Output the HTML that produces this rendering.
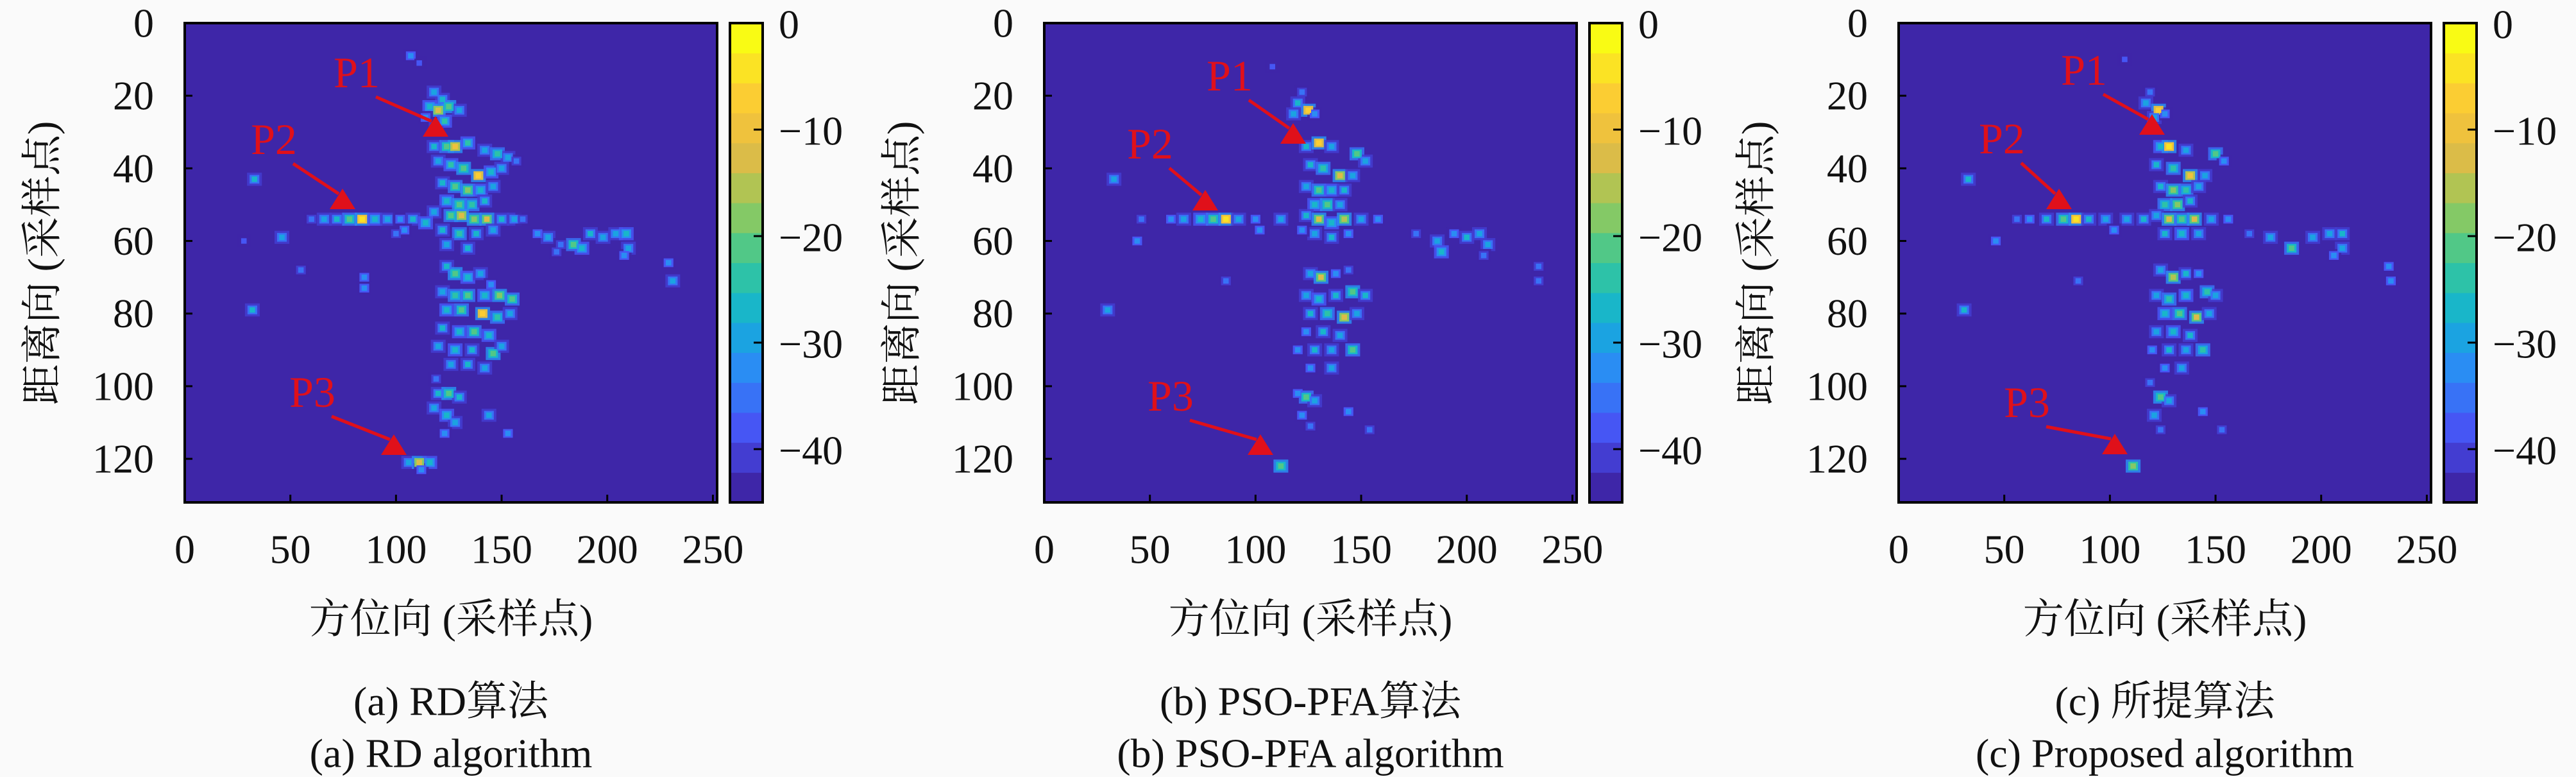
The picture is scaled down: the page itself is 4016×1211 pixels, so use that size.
<!DOCTYPE html>
<html><head><meta charset="utf-8"><style>
html,body{margin:0;padding:0;background:#fafafa;}
svg{display:block;}
text{font-family:"Liberation Serif","Noto Serif CJK SC",serif;fill:#111;}
.cjk{font-family:"Liberation Serif","Noto Serif CJK SC","Noto Sans CJK SC",serif;}
</style></head><body>
<svg id="fig" width="4016" height="1211" viewBox="0 0 4016 1211" xmlns="http://www.w3.org/2000/svg"></svg>
<script>
// ---- data ----
const xTicks = [0,50,100,150,200,250];
const yTicks = [0,20,40,60,80,100,120];
const cTicks = [0,-10,-20,-30,-40];
const xMax = 252, yMax = 132, cMin = -45, cMax = 0;
const captionsCN = ["(a) RD算法","(b) PSO-PFA算法","(c) 所提算法"];
const captionsEN = ["(a) RD algorithm","(b) PSO-PFA algorithm","(c) Proposed algorithm"];
const pointsA = [[107,9,-33],[111,11,-38],[118,19,-30],[122,21,-28],[116,23,-26],[120,24,-12],[125,23,-20],[130,24,-30],[114,26,-32],[123,27,-25],[119,29,-30],
[118,34,-28],[124,34,-22],[128,34,-9],[134,33,-25],[142,35,-30],[148,36,-24],[153,37,-30],[157,38,-34],
[120,38,-30],[126,39,-25],[132,40,-20],[139,42,-8],[145,41,-26],[150,40,-30],
[122,44,-28],[128,45,-22],[134,46,-18],[140,46,-26],[146,45,-30],
[124,49,-26],[130,50,-20],[136,50,-24],[142,49,-28],
[118,52,-30],[126,53,-22],[131,53,-12],[137,54,-18],[143,54,-14],[150,54,-28],
[60,54,-34],[66,54,-30],[72,54,-28],[78,54,-22],[84,54,-5],[90,54,-26],[96,54,-30],[102,54,-32],[108,54,-28],[114,55,-26],[156,54,-30],[160,54,-34],
[122,57,-28],[130,58,-24],[138,58,-28],[146,57,-30],[104,57,-32],[100,58,-35],[124,61,-30],[134,62,-28],
[167,58,-32],[172,59,-30],[178,61,-34],[184,61,-22],[188,62,-26],[192,58,-28],[198,59,-30],[204,58,-30],[209,58,-26],[210,62,-30],[176,63,-34],[208,64,-33],[229,66,-32],[231,71,-30],
[124,67,-28],[128,69,-20],[134,70,-26],[140,69,-30],[145,72,-32],
[122,74,-30],[128,75,-24],[134,75,-22],[142,75,-26],[149,75,-18],[155,76,-22],
[124,79,-26],[131,79,-22],[141,80,-8],[148,81,-24],[154,80,-30],
[122,84,-28],[130,85,-26],[137,85,-22],[144,86,-26],[120,89,-30],[128,90,-26],[136,90,-28],[146,91,-20],[150,89,-30],
[126,94,-30],[134,94,-28],[142,95,-30],
[119,98,-34],[120,102,-28],[125,102,-20],[130,103,-28],[118,106,-30],[124,108,-26],[128,110,-30],[123,113,-32],
[106,121,-30],[111,121,-12],[116,121,-26],[112,123,-32],
[33,43,-28],[46,59,-30],[32,79,-28],[85,70,-32],[85,73,-32],[144,108,-30],[153,113,-32],[28,60,-38],[55,68,-36]];
const pointsB = [[108,12,-38],[122,19,-34],[120,22,-28],[125,24,-6],[118,25,-30],[128,25,-32],
[124,34,-28],[130,33,-8],[136,34,-30],[148,36,-22],[152,38,-30],
[126,39,-28],[132,40,-24],[140,42,-12],[146,42,-30],
[124,45,-30],[130,46,-22],[136,46,-26],[142,46,-28],
[128,50,-26],[134,50,-20],[140,50,-30],
[124,53,-28],[130,54,-14],[136,55,-26],[142,54,-16],[150,54,-30],
[46,54,-36],[60,54,-32],[66,54,-30],[74,54,-26],[80,54,-22],[86,54,-3],[92,54,-30],[100,54,-32],[112,54,-30],[158,54,-32],
[128,58,-30],[136,59,-28],[144,58,-32],[102,57,-33],[122,57,-32],
[176,58,-34],[186,60,-30],[194,58,-32],[200,59,-28],[206,58,-30],[210,61,-30],[188,63,-26],[208,64,-34],[234,67,-34],[234,71,-34],
[126,69,-30],[131,70,-14],[138,69,-32],[144,68,-34],
[124,75,-30],[130,76,-26],[138,75,-28],[146,74,-20],[152,75,-28],
[126,80,-28],[134,80,-24],[142,81,-12],[148,80,-30],
[124,85,-32],[132,85,-28],[140,86,-30],[120,90,-32],[128,90,-28],[136,90,-30],[146,90,-22],
[126,95,-32],[136,95,-30],
[120,102,-32],[124,103,-22],[128,104,-30],[122,108,-32],[126,111,-34],
[112,122,-20],
[33,43,-30],[44,60,-32],[30,79,-30],[86,71,-36],[144,107,-32],[154,112,-34]];
const pointsC = [[107,10,-38],[119,19,-34],[117,22,-30],[123,24,-8],[121,26,-30],[126,25,-32],
[124,34,-26],[128,34,-5],[136,35,-30],[150,36,-22],[154,38,-32],
[122,39,-28],[130,40,-24],[138,42,-10],[145,42,-30],
[124,45,-28],[130,46,-18],[136,46,-24],[142,45,-30],
[126,50,-24],[132,50,-18],[138,49,-28],
[122,53,-30],[128,54,-14],[134,54,-22],[140,54,-14],[148,54,-30],
[56,54,-36],[62,54,-32],[70,54,-28],[78,54,-22],[84,54,-5],[90,54,-28],[98,54,-30],[108,54,-30],[116,54,-28],[156,54,-32],
[126,58,-28],[134,58,-26],[142,58,-30],[102,57,-33],
[166,58,-34],[176,59,-30],[186,62,-22],[196,59,-30],[204,58,-30],[210,58,-28],[210,62,-30],[206,64,-32],[232,67,-32],[233,71,-32],
[124,68,-30],[130,70,-16],[136,69,-28],[142,69,-32],
[122,75,-30],[128,76,-24],[136,75,-26],[146,74,-24],[150,75,-30],
[126,80,-26],[133,80,-22],[141,81,-14],[147,80,-30],
[122,85,-30],[130,85,-26],[138,86,-28],[120,90,-32],[128,90,-28],[136,90,-30],[144,90,-24],
[126,95,-32],[134,95,-30],
[119,99,-34],[124,103,-20],[128,104,-30],[121,108,-30],[124,112,-34],
[111,122,-18],
[33,43,-28],[46,60,-32],[31,79,-28],[85,71,-36],[144,107,-32],[153,112,-34]];
const pointSets = [pointsA, pointsB, pointsC];

// ---- layout ----
const NS = "http://www.w3.org/2000/svg";
const svg = document.getElementById('fig');
const panelLeft = [288, 1628, 2960];
const plotW = 830, plotTop = 36, plotBot = 783;
const cbGap = 20, cbW = 51;
const annots = [
  {p1t:[268,77],p1a:[391,145],p2t:[139,181],p2a:[246,258],p3t:[199,575],p3a:[326,641]},
  {p1t:[289,82],p1a:[388,156],p2t:[165,188],p2a:[251,260],p3t:[197,581],p3a:[337,641]},
  {p1t:[289,73],p1a:[395,142],p2t:[161,180],p2a:[250,258],p3t:[200,591],p3a:[337,640]}
];
const parula = [[62,38,168],[72,82,244],[46,135,247],[18,177,214],[55,200,151],[151,201,90],[230,186,69],[252,206,50],[249,251,20]];
function cmap(v){
  let t = (v - cMin)/(cMax - cMin); t = Math.max(0, Math.min(1, t));
  t = Math.min(15, Math.floor(t*16))/15;
  const s = t*(parula.length-1), i = Math.min(parula.length-2, Math.floor(s)), f = s - i;
  const c = parula[i].map((a,k)=>Math.round(a + (parula[i+1][k]-a)*f));
  return `rgb(${c[0]},${c[1]},${c[2]})`;
}
function el(tag, attrs, parent){
  const e = document.createElementNS(NS, tag);
  for (const k in attrs) e.setAttribute(k, attrs[k]);
  (parent||svg).appendChild(e); return e;
}
function txt(s, x, y, size, anchor, parent, cls){
  const t = el('text', {x:x, y:y, 'font-size':size, 'text-anchor':anchor||'middle', 'dominant-baseline':'central'}, parent);
  if (cls) t.setAttribute('class', cls);
  t.textContent = s; return t;
}

for (let p = 0; p < 3; p++){
  const L = panelLeft[p], R = L + plotW;
  const xs = v => L + v/xMax*plotW;
  const ys = v => plotTop + v/yMax*(plotBot-plotTop);
  const g = el('g', {});
  
  
  const bg = el('rect', {x:L, y:plotTop, width:plotW, height:plotBot-plotTop, fill:cmap(cMin)}, g);
  
  
  const pts = pointSets[p];
  // halos
  const hw = 7/xMax*plotW, hh = 3.6/yMax*(plotBot-plotTop);
  for (const pt of pts){
    const r = el('rect', {x:xs(pt[0])-hw/2, y:ys(pt[1])-hh/2, width:hw, height:hh, fill:cmap(Math.min(-33, pt[2]-12)), opacity:0.85}, g);
    
    
  }
  const mw = 4.6/xMax*plotW, mh = 2.4/yMax*(plotBot-plotTop);
  for (const pt of pts){
    const r = el('rect', {x:xs(pt[0])-mw/2, y:ys(pt[1])-mh/2, width:mw, height:mh, fill:cmap(pt[2]-6)}, g);
    
    
  }
  const cw = 2.6/xMax*plotW, ch = 1.5/yMax*(plotBot-plotTop);
  const sorted = pts.slice().sort((a,b)=>a[2]-b[2]);
  for (const pt of sorted){
    const r = el('rect', {x:xs(pt[0])-cw/2, y:ys(pt[1])-ch/2, width:cw, height:ch, fill:cmap(pt[2])}, g);
    
    
  }
  el('rect', {x:L, y:plotTop, width:plotW, height:plotBot-plotTop, fill:'none', stroke:'#000', 'stroke-width':4}, g);
  for (const t of xTicks){
    const x = xs(t);
    el('line', {x1:x, y1:plotBot, x2:x, y2:plotBot-12, stroke:'#000', 'stroke-width':3}, g);
    const lb = txt(String(t), x, 856, 64, 'middle', g);
    
    
  }
  for (const t of yTicks){
    const y = ys(t);
    el('line', {x1:L, y1:y, x2:L+12, y2:y, stroke:'#000', 'stroke-width':3}, g);
    const lb = txt(String(t), L-48, y, 64, 'end', g);
    
    
  }
  const cx = R + cbGap;
  const cs = v => plotTop + (cMax - v)/(cMax - cMin)*(plotBot-plotTop);
  for (let k = 0; k < 16; k++){
    const v0 = cMin + k*(cMax-cMin)/16, v1 = cMin + (k+1)*(cMax-cMin)/16;
    const r = el('rect', {x:cx, y:cs(v1), width:cbW, height:cs(v0)-cs(v1)+0.5, fill:cmap((v0+v1)/2)}, g);
    
    
  }
  el('rect', {x:cx, y:plotTop, width:cbW, height:plotBot-plotTop, fill:'none', stroke:'#000', 'stroke-width':4}, g);
  for (const t of cTicks){
    const y = cs(t);
    if (t !== 0) el('line', {x1:cx+cbW, y1:y, x2:cx+cbW-14, y2:y, stroke:'#000', 'stroke-width':3}, g);
    const lb = txt(t === 0 ? '0' : '\u2212' + Math.abs(t), cx+cbW+25, y+2, 64, 'start', g);
    
    
  }
  const xl = txt('方位向 (采样点)', L+plotW/2, 965, 64, 'middle', g, 'cjk');
  
  
  const yl = txt('距离向 (采样点)', 0, 0, 64, 'middle', g, 'cjk');
  yl.setAttribute('transform', `translate(${L-222},410) rotate(-90)`);
  
  
  const c1 = txt(captionsCN[p], L+plotW/2, 1093, 64, 'middle', g, 'cjk');
  
  
  const c2 = txt(captionsEN[p], L+plotW/2, 1174, 64, 'middle', g);
  
  
  const a = annots[p];
  [['P1',a.p1t,a.p1a],['P2',a.p2t,a.p2a],['P3',a.p3t,a.p3a]].forEach(([lab,tp,ap])=>{
    const tx = L+tp[0], ty = plotTop+tp[1], ax = L+ap[0], ay = plotTop+ap[1];
    const t = txt(lab, tx, ty, 68, 'middle', g);
    t.setAttribute('style', 'fill:#e0101a');
    
    
    const ln = el('line', {x1:tx+30, y1:ty+38, x2:ax-6, y2:ay+8, stroke:'#e0101a', 'stroke-width':5}, g);
    
    
    const tri = el('polygon', {points:`${ax},${ay} ${ax-20},${ay+32} ${ax+20},${ay+32}`, fill:'#e0101a'}, g);
    
    
  });
}
</script>
</body></html>
